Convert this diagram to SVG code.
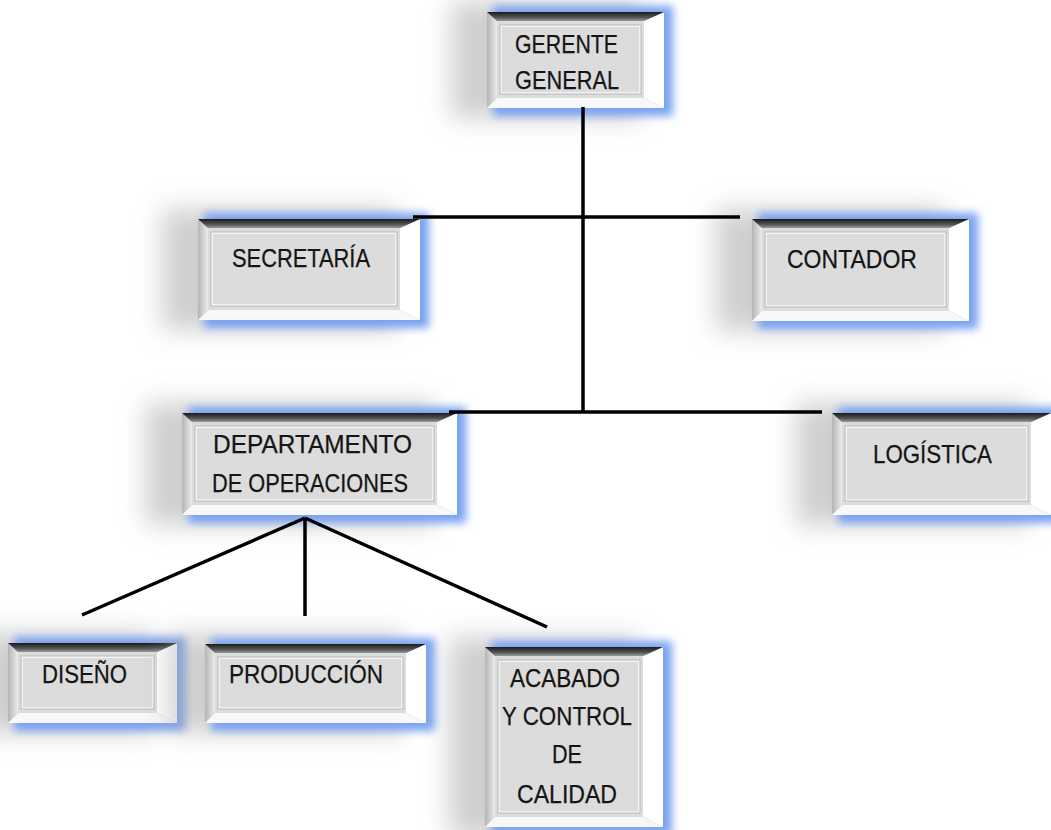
<svg xmlns="http://www.w3.org/2000/svg" width="1051" height="830" viewBox="0 0 1051 830">
<defs>
<filter id="fGray" x="-50%" y="-50%" width="200%" height="200%"><feGaussianBlur stdDeviation="13"/></filter>
<filter id="fBlue" x="-30%" y="-30%" width="160%" height="160%"><feGaussianBlur stdDeviation="4.5"/></filter>
<linearGradient id="gTop" x1="0" y1="0" x2="0" y2="1"><stop offset="0" stop-color="#1a1a1a"/><stop offset="0.6" stop-color="#555"/><stop offset="1" stop-color="#9a9a9a"/></linearGradient>
<linearGradient id="gLeft" x1="0" y1="0" x2="1" y2="0"><stop offset="0" stop-color="#b4b4b4"/><stop offset="1" stop-color="#ececec"/></linearGradient>
<style>
.sg{fill:#a8a8a8;opacity:0.55}
.sb{fill:#7aa2f0}
.bt{fill:url(#gTop)}
.br{fill:#ffffff}
.bb{fill:#f8f8f8}
.bl{fill:url(#gLeft)}
.fc{fill:#dcdcdc}
.o1{fill:none;stroke:#fafafa;stroke-width:1.5}
.o2{fill:none;stroke:#b0b0b0;stroke-width:0.8}
.t{font-family:"Liberation Sans",Arial,sans-serif;font-size:26px;fill:#151515;stroke:#151515;stroke-width:0.25;text-anchor:middle}
.ln{stroke:#000;stroke-width:3.5;fill:none;stroke-linecap:butt}
</style>
</defs>
<rect width="1051" height="830" fill="#ffffff"/>

<g id="n-gerente" transform="translate(487,12)">
<rect class="sg" x="-36" y="-10" width="190" height="116" filter="url(#fGray)"/>
<rect class="sb" x="6" y="-6" width="180" height="110" filter="url(#fBlue)"/>
<polygon class="bl" points="0,0 0,96 10,86 10,9"/>
<polygon class="bb" points="0,96 177,96 157,86 10,86"/>
<polygon class="br" points="177,0 177,96 157,86 157,9"/>
<polygon class="bt" points="0,0 177,0 157,9 10,9"/>
<rect class="fc" x="10" y="9" width="147" height="77"/>
<rect class="o1" x="14" y="14" width="139" height="67"/>
<rect class="o2" x="13" y="13" width="141" height="69"/>
<text class="t" x="79.5" y="41" textLength="103" lengthAdjust="spacingAndGlyphs">GERENTE</text>
<text class="t" x="80" y="77" textLength="104" lengthAdjust="spacingAndGlyphs">GENERAL</text>
</g>

<g id="n-secretaria" transform="translate(198,219)">
<rect class="sg" x="-36" y="-10" width="235" height="121" filter="url(#fGray)"/>
<rect class="sb" x="6" y="-6" width="225" height="115" filter="url(#fBlue)"/>
<polygon class="bl" points="0,0 0,101 10,91 10,9"/>
<polygon class="bb" points="0,101 222,101 202,91 10,91"/>
<polygon class="br" points="222,0 222,101 202,91 202,9"/>
<polygon class="bt" points="0,0 222,0 202,9 10,9"/>
<rect class="fc" x="10" y="9" width="192" height="82"/>
<rect class="o1" x="14" y="14" width="184" height="72"/>
<rect class="o2" x="13" y="13" width="186" height="74"/>
<text class="t" x="103" y="48" textLength="138" lengthAdjust="spacingAndGlyphs">SECRETARÍA</text>
</g>

<g id="n-contador" transform="translate(752,219)">
<rect class="sg" x="-36" y="-10" width="230" height="122" filter="url(#fGray)"/>
<rect class="sb" x="6" y="-6" width="220" height="116" filter="url(#fBlue)"/>
<polygon class="bl" points="0,0 0,102 10,92 10,9"/>
<polygon class="bb" points="0,102 217,102 197,92 10,92"/>
<polygon class="br" points="217,0 217,102 197,92 197,9"/>
<polygon class="bt" points="0,0 217,0 197,9 10,9"/>
<rect class="fc" x="10" y="9" width="187" height="83"/>
<rect class="o1" x="14" y="14" width="179" height="73"/>
<rect class="o2" x="13" y="13" width="181" height="75"/>
<text class="t" x="100" y="49" textLength="130" lengthAdjust="spacingAndGlyphs">CONTADOR</text>
</g>

<g id="n-departamento" transform="translate(182,413)">
<rect class="sg" x="-36" y="-10" width="288" height="122" filter="url(#fGray)"/>
<rect class="sb" x="6" y="-6" width="278" height="116" filter="url(#fBlue)"/>
<polygon class="bl" points="0,0 0,102 10,92 10,9"/>
<polygon class="bb" points="0,102 275,102 255,92 10,92"/>
<polygon class="br" points="275,0 275,102 255,92 255,9"/>
<polygon class="bt" points="0,0 275,0 255,9 10,9"/>
<rect class="fc" x="10" y="9" width="245" height="83"/>
<rect class="o1" x="14" y="14" width="237" height="73"/>
<rect class="o2" x="13" y="13" width="239" height="75"/>
<text class="t" x="130.5" y="40" textLength="199" lengthAdjust="spacingAndGlyphs">DEPARTAMENTO</text>
<text class="t" x="128" y="79" textLength="196" lengthAdjust="spacingAndGlyphs">DE OPERACIONES</text>
</g>

<g id="n-logistica" transform="translate(832,413)">
<rect class="sg" x="-36" y="-10" width="232" height="122" filter="url(#fGray)"/>
<rect class="sb" x="6" y="-6" width="222" height="116" filter="url(#fBlue)"/>
<polygon class="bl" points="0,0 0,102 10,92 10,9"/>
<polygon class="bb" points="0,102 219,102 199,92 10,92"/>
<polygon class="br" points="219,0 219,102 199,92 199,9"/>
<polygon class="bt" points="0,0 219,0 199,9 10,9"/>
<rect class="fc" x="10" y="9" width="189" height="83"/>
<rect class="o1" x="14" y="14" width="181" height="73"/>
<rect class="o2" x="13" y="13" width="183" height="75"/>
<text class="t" x="100.5" y="50" textLength="119" lengthAdjust="spacingAndGlyphs">LOGÍSTICA</text>
</g>

<g id="n-diseno" transform="translate(8,643)">
<rect class="sg" x="-36" y="-10" width="182" height="100" filter="url(#fGray)"/>
<rect class="sb" x="6" y="-6" width="172" height="94" filter="url(#fBlue)"/>
<polygon class="bl" points="0,0 0,80 10,70 10,9"/>
<polygon class="bb" points="0,80 169,80 149,70 10,70"/>
<polygon class="br" points="169,0 169,80 149,70 149,9"/>
<polygon class="bt" points="0,0 169,0 149,9 10,9"/>
<rect class="fc" x="10" y="9" width="139" height="61"/>
<rect class="o1" x="14" y="14" width="131" height="51"/>
<rect class="o2" x="13" y="13" width="133" height="53"/>
<text class="t" x="76.5" y="40" textLength="85" lengthAdjust="spacingAndGlyphs">DISEÑO</text>
</g>

<g id="n-produccion" transform="translate(205,644)">
<rect class="sg" x="-36" y="-10" width="234" height="99" filter="url(#fGray)"/>
<rect class="sb" x="6" y="-6" width="224" height="93" filter="url(#fBlue)"/>
<polygon class="bl" points="0,0 0,79 10,69 10,9"/>
<polygon class="bb" points="0,79 221,79 201,69 10,69"/>
<polygon class="br" points="221,0 221,79 201,69 201,9"/>
<polygon class="bt" points="0,0 221,0 201,9 10,9"/>
<rect class="fc" x="10" y="9" width="191" height="60"/>
<rect class="o1" x="14" y="14" width="183" height="50"/>
<rect class="o2" x="13" y="13" width="185" height="52"/>
<text class="t" x="101" y="39" textLength="154" lengthAdjust="spacingAndGlyphs">PRODUCCIÓN</text>
</g>

<g id="n-acabado" transform="translate(485,647)">
<rect class="sg" x="-36" y="-10" width="191" height="200" filter="url(#fGray)"/>
<rect class="sb" x="6" y="-6" width="181" height="194" filter="url(#fBlue)"/>
<polygon class="bl" points="0,0 0,180 10,170 10,9"/>
<polygon class="bb" points="0,180 178,180 158,170 10,170"/>
<polygon class="br" points="178,0 178,180 158,170 158,9"/>
<polygon class="bt" points="0,0 178,0 158,9 10,9"/>
<rect class="fc" x="10" y="9" width="148" height="161"/>
<rect class="o1" x="14" y="14" width="140" height="151"/>
<rect class="o2" x="13" y="13" width="142" height="153"/>
<text class="t" x="80" y="40" textLength="110" lengthAdjust="spacingAndGlyphs">ACABADO</text>
<text class="t" x="82" y="78" textLength="130" lengthAdjust="spacingAndGlyphs">Y CONTROL</text>
<text class="t" x="82" y="116" textLength="30" lengthAdjust="spacingAndGlyphs">DE</text>
<text class="t" x="82" y="156" textLength="100" lengthAdjust="spacingAndGlyphs">CALIDAD</text>
</g>

<g id="connectors">
<line class="ln" x1="583" y1="107" x2="583" y2="413"/>
<line class="ln" x1="413" y1="217" x2="740" y2="217"/>
<line class="ln" x1="449" y1="412" x2="822" y2="412"/>
<line class="ln" x1="305" y1="518" x2="82" y2="615"/>
<line class="ln" x1="305" y1="518" x2="305" y2="616"/>
<line class="ln" x1="305" y1="518" x2="547" y2="627"/>
</g>
</svg>
